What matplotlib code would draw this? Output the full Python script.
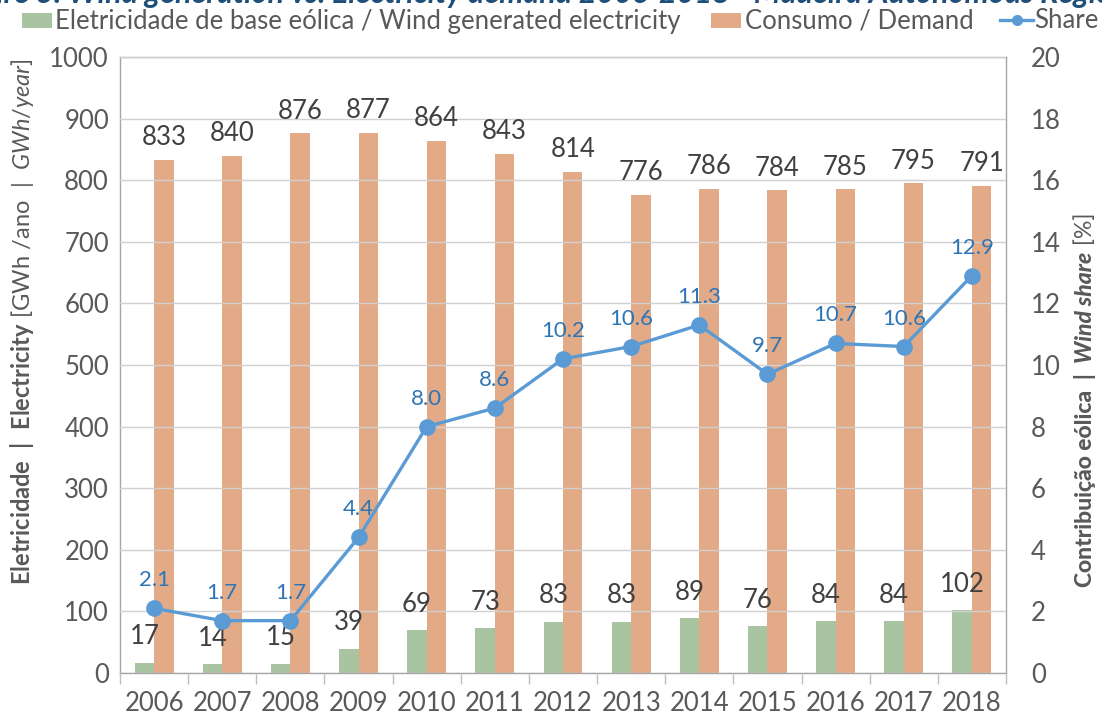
import matplotlib
matplotlib.use("Agg")
import matplotlib.pyplot as plt
import numpy as np
from matplotlib.lines import Line2D
from matplotlib.patches import Rectangle
from matplotlib import font_manager as fm

years = ["2006", "2007", "2008", "2009", "2010", "2011", "2012",
         "2013", "2014", "2015", "2016", "2017", "2018"]
wind = [17, 14, 15, 39, 69, 73, 83, 83, 89, 76, 84, 84, 102]
demand = [833, 840, 876, 877, 864, 843, 814, 776, 786, 784, 785, 795, 791]
share = [2.1, 1.7, 1.7, 4.4, 8.0, 8.6, 10.2, 10.6, 11.3, 9.7, 10.7, 10.6, 12.9]
legend_labels = ["Eletricidade de base eólica / Wind generated electricity",
                 "Consumo / Demand", "Share"]
title = "Figure 3: Wind generation vs. Electricity demand 2006-2018 - Madeira Autonomous Region"

FONT = "Lato"
plt.rcParams['font.family'] = [FONT, 'DejaVu Sans']
plt.rcParams['mathtext.fontset'] = 'custom'
plt.rcParams['mathtext.rm'] = FONT
plt.rcParams['mathtext.bf'] = FONT + ':bold'
plt.rcParams['mathtext.it'] = FONT + ':italic'

GREEN = "#a9c4a0"
ORANGE = "#e2aa86"
BLUE = "#5b9bd5"
BLUE_TXT = "#2e75b6"
GRAY = "#595959"
DARK = "#404040"

W, H = 1102, 718
fig = plt.figure(figsize=(W / 100, H / 100), dpi=100)
ax = fig.add_axes([120 / W, (H - 673) / H, 886 / W, 616 / H])
ax2 = ax.twinx()

x = np.arange(len(years))
bw = 0.285
ax.bar(x - bw / 2, wind, bw, color=GREEN, zorder=2)
ax.bar(x + bw / 2, demand, bw, color=ORANGE, zorder=2)

for xi, v in zip(x, wind):
    ax.annotate(str(v), (xi - bw / 2, v), xytext=(0, 26), textcoords="offset pixels",
                ha="center", va="center", fontsize=18.5, color=DARK)
for xi, v in zip(x, demand):
    ax.annotate(str(v), (xi + bw / 2, v), xytext=(0, 22), textcoords="offset pixels",
                ha="center", va="center", fontsize=18.5, color=DARK)

ax.set_xlim(-0.5, len(years) - 0.5)
ax.set_ylim(0, 1000)
ax.set_yticks(np.arange(0, 1001, 100))
ax.set_xticks(x)
ax.set_xticklabels(years)
ax.set_xticks(np.arange(-0.5, len(years), 1), minor=True)
ax.tick_params(axis="x", which="major", length=0, labelsize=18.5, labelcolor=GRAY, pad=13)
ax.tick_params(axis="x", which="minor", length=8, color="#bfbfbf", width=1)
ax.tick_params(axis="y", length=0, labelsize=18.5, labelcolor=GRAY, pad=8)
ax.grid(axis="y", color="#d0d0d0", linewidth=1, zorder=3)
ax.set_axisbelow(False)
for s in ax.spines.values():
    s.set_color("#a6a6a6")
    s.set_linewidth(1)

ax2.plot(x, share, color=BLUE, linewidth=2.4, marker="o", markersize=11, zorder=5)
for xi, v in zip(x, share):
    ax2.annotate(f"{v:.1f}", (xi, v), xytext=(0, 28), textcoords="offset pixels",
                 ha="center", va="center", fontsize=16, color=BLUE_TXT)
ax2.set_ylim(0, 20)
ax2.set_yticks(np.arange(0, 21, 2))
ax2.tick_params(axis="y", length=0, labelsize=18.5, labelcolor=GRAY, pad=18)
for s in ax2.spines.values():
    s.set_visible(False)

fig.text(22 / W, 1 - 322 / H,
         r"$\mathbf{Eletricidade\ \ |\ \ Electricity}\ [\mathrm{GWh\ /ano\ \ |\ \ }\mathit{GWh/year}]$",
         fontsize=17, color=GRAY, rotation=90, ha="center", va="center")

# right label built from pieces with mixed styles, stacked bottom to top
bold_fp = fm.FontProperties(family=FONT, weight="black", size=16.5)
bi_fp = fm.FontProperties(family=FONT, weight="black", style="italic", size=16.5)
rg_fp = fm.FontProperties(family=FONT, size=16.5)
renderer = fig.canvas.get_renderer()
pieces = [("Contribuição eólica  |  ", bold_fp),
          ("Wind share", bi_fp),
          (" [%]", rg_fp)]
texts = []
for s, fp in pieces:
    t = fig.text(0, 0, s, fontproperties=fp, color=GRAY,
                 rotation=90, rotation_mode="anchor", ha="left", va="center")
    texts.append(t)
heights = [t.get_window_extent(renderer).height for t in texts]
total = sum(heights)
y0 = (H - 400) - total / 2
for t, h in zip(texts, heights):
    t.set_position((1085 / W, y0 / H))
    y0 += h

fig.text(-52 / W, 1 - 3 / H, title,
         fontsize=22, fontweight="bold", fontstyle="italic", color="#1f4e79",
         ha="left", va="baseline")

# legend (figure pixel coordinates)
def px(xp, yp):
    return xp / W, 1 - yp / H

fig.patches.append(Rectangle(px(22, 28), 30 / W, 15 / H, transform=fig.transFigure,
                             facecolor=GREEN, edgecolor="none"))
fig.patches.append(Rectangle(px(711, 28), 30 / W, 15 / H, transform=fig.transFigure,
                             facecolor=ORANGE, edgecolor="none"))
fig.lines.append(Line2D([1000 / W, 1033 / W], [1 - 20 / H, 1 - 20 / H],
                        transform=fig.transFigure, color=BLUE, linewidth=2.4,
                        marker=None))
fig.lines.append(Line2D([1016.5 / W], [1 - 20 / H], transform=fig.transFigure,
                        color=BLUE, marker="o", markersize=7, linestyle="none"))
lx = [55, 745, 1034]
for xp, lab in zip(lx, legend_labels):
    fig.text(xp / W, 1 - 21 / H, lab, fontsize=18.5, color=GRAY, ha="left", va="center")

fig.savefig("out.png", dpi=100)
